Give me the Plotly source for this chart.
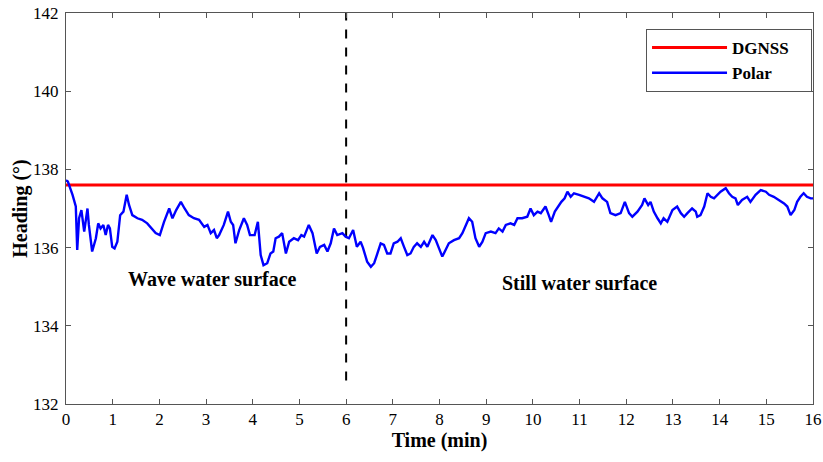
import plotly.graph_objects as go

# ---- data ----
time_min = [0.00, 0.04, 0.14, 0.21, 0.24, 0.28, 0.33, 0.39, 0.46, 0.49, 0.56, 0.64, 0.69, 0.74, 0.80, 0.85, 0.90, 0.94, 0.99, 1.04,
            1.10, 1.16, 1.23, 1.30, 1.35, 1.42, 1.53, 1.63, 1.74, 1.85, 1.92, 2.01, 2.10, 2.21, 2.28, 2.36, 2.46, 2.54, 2.63, 2.74,
            2.85, 2.96, 3.03, 3.10, 3.17, 3.23, 3.28, 3.38, 3.47, 3.53, 3.58, 3.63, 3.71, 3.81, 3.88, 3.94, 4.04, 4.11, 4.17, 4.23,
            4.31, 4.38, 4.44, 4.49, 4.56, 4.63, 4.71, 4.78, 4.88, 4.97, 5.04, 5.10, 5.20, 5.28, 5.37, 5.44, 5.53, 5.60, 5.67, 5.74,
            5.81, 5.92, 5.99, 6.06, 6.15, 6.23, 6.31, 6.36, 6.45, 6.53, 6.60, 6.67, 6.74, 6.81, 6.88, 6.95, 7.02, 7.10, 7.17, 7.24,
            7.31, 7.38, 7.45, 7.52, 7.60, 7.67, 7.74, 7.85, 7.92, 7.99, 8.06, 8.13, 8.20, 8.31, 8.42, 8.49, 8.56, 8.63, 8.70, 8.77,
            8.85, 8.92, 8.99, 9.10, 9.20, 9.27, 9.35, 9.42, 9.52, 9.60, 9.67, 9.77, 9.88, 9.95, 10.02, 10.10, 10.17, 10.27, 10.34, 10.39,
            10.47, 10.54, 10.61, 10.68, 10.74, 10.81, 10.88, 10.99, 11.09, 11.20, 11.31, 11.42, 11.49, 11.59, 11.66, 11.77, 11.88, 11.97, 12.06, 12.13,
            12.24, 12.34, 12.39, 12.47, 12.52, 12.59, 12.67, 12.74, 12.80, 12.88, 12.99, 13.09, 13.17, 13.24, 13.31, 13.41, 13.49, 13.52, 13.59, 13.67,
            13.74, 13.81, 13.88, 13.95, 14.02, 14.13, 14.20, 14.27, 14.34, 14.39, 14.48, 14.59, 14.66, 14.77, 14.88, 14.99, 15.06, 15.16, 15.27, 15.38,
            15.45, 15.52, 15.60, 15.66, 15.73, 15.80, 15.87, 15.95, 16.00]
polar_heading = [137.72, 137.69, 137.35, 137.05, 135.94, 136.75, 136.96, 136.41, 137.00, 136.58, 135.90, 136.24, 136.62, 136.49, 136.58, 136.32, 136.58, 136.49, 136.02, 135.98,
                 136.15, 136.83, 136.92, 137.35, 137.09, 136.83, 136.75, 136.71, 136.62, 136.45, 136.37, 136.32, 136.66, 137.00, 136.75, 136.96, 137.17, 137.00, 136.83, 136.75,
                 136.71, 136.53, 136.58, 136.37, 136.45, 136.24, 136.32, 136.58, 136.92, 136.66, 136.58, 136.11, 136.45, 136.75, 136.58, 136.32, 136.32, 136.66, 135.81, 135.55,
                 135.60, 135.85, 135.90, 136.24, 136.28, 136.37, 135.85, 136.15, 136.24, 136.19, 136.32, 136.28, 136.58, 136.37, 135.85, 136.02, 136.07, 135.90, 136.11, 136.49,
                 136.32, 136.37, 136.28, 136.24, 136.45, 136.02, 136.15, 136.00, 135.64, 135.51, 135.60, 135.85, 136.11, 136.07, 135.85, 135.85, 136.11, 136.15, 136.24, 136.02,
                 135.81, 135.85, 136.02, 136.11, 136.02, 136.15, 136.02, 136.32, 136.19, 135.98, 135.77, 135.94, 136.11, 136.19, 136.24, 136.37, 136.58, 136.75, 136.66, 136.24,
                 136.02, 136.15, 136.37, 136.41, 136.37, 136.49, 136.41, 136.58, 136.62, 136.58, 136.75, 136.75, 136.79, 137.00, 136.83, 136.92, 136.88, 137.05, 136.83, 136.66,
                 136.92, 137.05, 137.17, 137.26, 137.43, 137.30, 137.39, 137.35, 137.30, 137.26, 137.17, 137.39, 137.26, 137.17, 136.88, 136.83, 136.88, 137.17, 136.88, 136.79,
                 136.92, 137.09, 137.26, 137.09, 137.17, 136.92, 136.75, 136.62, 136.75, 136.66, 136.96, 137.05, 136.88, 136.79, 136.88, 137.00, 136.92, 136.79, 136.83, 137.05,
                 137.39, 137.30, 137.26, 137.35, 137.43, 137.52, 137.39, 137.30, 137.26, 137.09, 137.22, 137.30, 137.17, 137.35, 137.47, 137.43, 137.35, 137.30, 137.22, 137.13,
                 137.05, 136.83, 136.96, 137.17, 137.30, 137.39, 137.30, 137.26, 137.26]
dgnss_time = [0, 16]
dgnss_heading = [137.6, 137.6]
divider_time = [6, 6]
divider_heading = [132.6, 142]
x_ticks = list(range(0, 17))
y_ticks = [132, 134, 136, 138, 140, 142]

FONT = "Liberation Serif"
PAD = "&nbsp;" * 4

fig = go.Figure()
fig.add_trace(go.Scatter(x=divider_time, y=divider_heading, mode="lines",
                         line=dict(color="black", width=2, dash="dash"), showlegend=False, hoverinfo="skip"))
fig.add_trace(go.Scatter(x=dgnss_time, y=dgnss_heading, mode="lines", name="<b>DGNSS</b>" + PAD,
                         line=dict(color="#ff0000", width=3)))
fig.add_trace(go.Scatter(x=time_min, y=polar_heading, mode="lines", name="<b>Polar</b>" + PAD,
                         line=dict(color="#0000ff", width=2.4)))

fig.add_annotation(x=3.13, y=135.2, text="<b>Wave water surface</b>", showarrow=False,
                   font=dict(family=FONT, size=20, color="black"))
fig.add_annotation(x=11.0, y=135.1, text="<b>Still water surface</b>", showarrow=False,
                   font=dict(family=FONT, size=20, color="black"))

axis_common = dict(showline=True, linecolor="#555555", linewidth=1, mirror="ticks",
                   ticks="inside", ticklen=5, tickcolor="#555555", showgrid=False, zeroline=False,
                   automargin=False, tickprefix="<b>", ticksuffix="</b>",
                   tickfont=dict(family=FONT, size=17, color="black"))

fig.update_xaxes(range=[0, 16], tickvals=x_ticks,
                 title=dict(text="<b>Time (min)</b>", font=dict(family=FONT, size=20, color="black"), standoff=2),
                 **axis_common)
fig.update_yaxes(range=[132, 142], tickvals=y_ticks, ticklabelstandoff=3,
                 title=dict(text="<b>Heading (°)</b>", font=dict(family=FONT, size=20, color="black"), standoff=0),
                 **axis_common)

fig.update_layout(
    width=823, height=462,
    margin=dict(l=66, r=10, t=13, b=58),
    plot_bgcolor="white", paper_bgcolor="white",
    font=dict(family=FONT, color="black"),
    legend=dict(x=0.9987, y=0.959, xanchor="right", yanchor="top",
                bgcolor="white", bordercolor="#555555", borderwidth=1,
                font=dict(family=FONT, size=17, color="black"),
                tracegroupgap=0, itemwidth=75),
)

fig.write_html("out.html", config={"displayModeBar": False},
               post_script="document.body.style.margin='0';document.body.style.padding='0';")
